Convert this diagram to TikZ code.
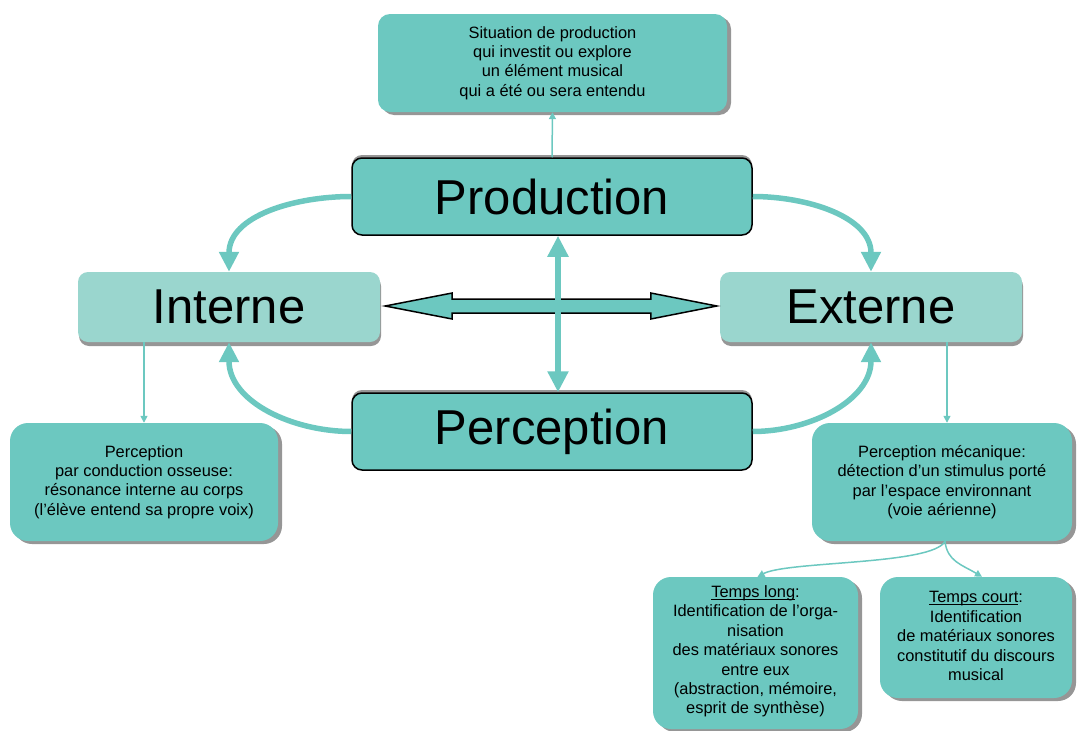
\documentclass[tikz,border=0pt]{standalone}
\usepackage{fontspec}
\setmainfont{Liberation Sans}
\usetikzlibrary{arrows.meta,shadows,calc}

\definecolor{turquoise}{RGB}{108,200,192}
\definecolor{turquoiseclair}{RGB}{154,214,206}
\definecolor{ombre}{RGB}{150,150,150}

\newcommand\souligne[1]{\underline{\smash{#1}}}

\tikzset{
  petite/.style={fill=turquoise, rounded corners=18pt, align=center, inner sep=0pt,
    font=\fontsize{16.4}{19.4}\selectfont,
    drop shadow={shadow xshift=4pt, shadow yshift=-3pt, fill=ombre, opacity=1}},
  grande/.style={fill=turquoise, draw=black, line width=1.5pt, rounded corners=10pt,
    inner sep=0pt, minimum width=400pt, minimum height=77pt,
    font=\fontsize{49}{55}\selectfont,
    drop shadow={shadow xshift=0pt, shadow yshift=3pt, fill=ombre, opacity=1}},
  pole/.style={fill=turquoiseclair, rounded corners=10pt, inner sep=0pt,
    minimum width=302pt, minimum height=70pt,
    font=\fontsize{49}{55}\selectfont,
    drop shadow={shadow xshift=1pt, shadow yshift=-4pt, fill=ombre, opacity=1}},
  courbe/.style={draw=turquoise, line width=5.5pt, -{Triangle[length=20pt,width=19pt]}},
  fine/.style={draw=turquoise, line width=1.5pt, -{Triangle[length=7pt,width=7pt]}}
}

\begin{document}
\begin{tikzpicture}[x=1pt,y=1pt]
\useasboundingbox (0,0) rectangle (1077,-731);

% Cases principales
\node[grande] (production) at (552,-196.5) {Production};
\node[grande] (perception) at (552,-431.5) {Perception};
\node[pole] (interne) at (229,-307) {Interne};
\node[pole] (externe) at (871,-307) {Externe};

% Cases de texte
\node[petite, rounded corners=12pt, minimum width=349pt, minimum height=98pt] (situation) at (552.5,-63)
  {Situation de production\\qui investit ou explore\\un élément musical\\qui a été ou sera entendu};
\node[petite, minimum width=268pt, minimum height=118pt] (osseuse) at (144,-482)
  {Perception\\par conduction osseuse:\\résonance interne au corps\\(l’élève entend sa propre voix)};
\node[petite, minimum width=260pt, minimum height=118pt] (mecanique) at (942,-482)
  {Perception mécanique:\\détection d’un stimulus porté\\par l’espace environnant\\(voie aérienne)};
\node[petite, minimum width=205pt, minimum height=152pt] (long) at (755.5,-653)
  {\souligne{Temps long}:\\Identification de l’orga-\\nisation\\des matériaux sonores\\entre eux\\(abstraction, mémoire,\\esprit de synthèse)};
\node[petite, minimum width=192pt, minimum height=121pt] (court) at (976,-637.5)
  {\souligne{Temps court}:\\Identification\\de matériaux sonores\\constitutif du discours\\musical};

% Fleches courbes
\draw[courbe] (production.west) to[out=180,in=90] (interne.north);
\draw[courbe] (perception.west) to[out=180,in=-90] (interne.south);
\draw[courbe] (production.east) to[out=0,in=90] (externe.north);
\draw[courbe] (perception.east) to[out=0,in=-90] (externe.south);

% Double fleche horizontale
\coordinate (g) at ($(interne.east)+(5,1)$);
\coordinate (d) at ($(externe.west)+(-3,1)$);
\draw[line width=1.5pt, fill=turquoise] (g) -- ++(67,13) -- ++(0,-6) -- ($(d)+(-66,7)$) -- ++(0,6)
  -- (d) -- ++(-66,-13) -- ++(0,6) -- ($(g)+(67,-7)$) -- ++(0,-6) -- cycle;

% Double fleche verticale
\draw[draw=turquoise, line width=6pt, {Triangle[length=21pt,width=20pt]}-{Triangle[length=21pt,width=20pt]}]
  ([xshift=6pt]production.south) -- ([xshift=6pt]perception.north);

% Fleches fines
\draw[fine] (production.north) -- (situation.south);
\draw[fine] (interne.south -| osseuse.north) -- (osseuse.north);
\draw[fine] ([xshift=5pt]externe.south -| mecanique.north) -- ([xshift=5pt]mecanique.north);
\draw[fine] ([xshift=3pt]mecanique.south) .. controls +(-12,-24) and +(30,16) .. ([xshift=2pt]long.north);
\draw[fine] ([xshift=3pt]mecanique.south) .. controls +(2,-20) and +(-20,12) .. ([xshift=6pt]court.north);
\end{tikzpicture}
\end{document}
